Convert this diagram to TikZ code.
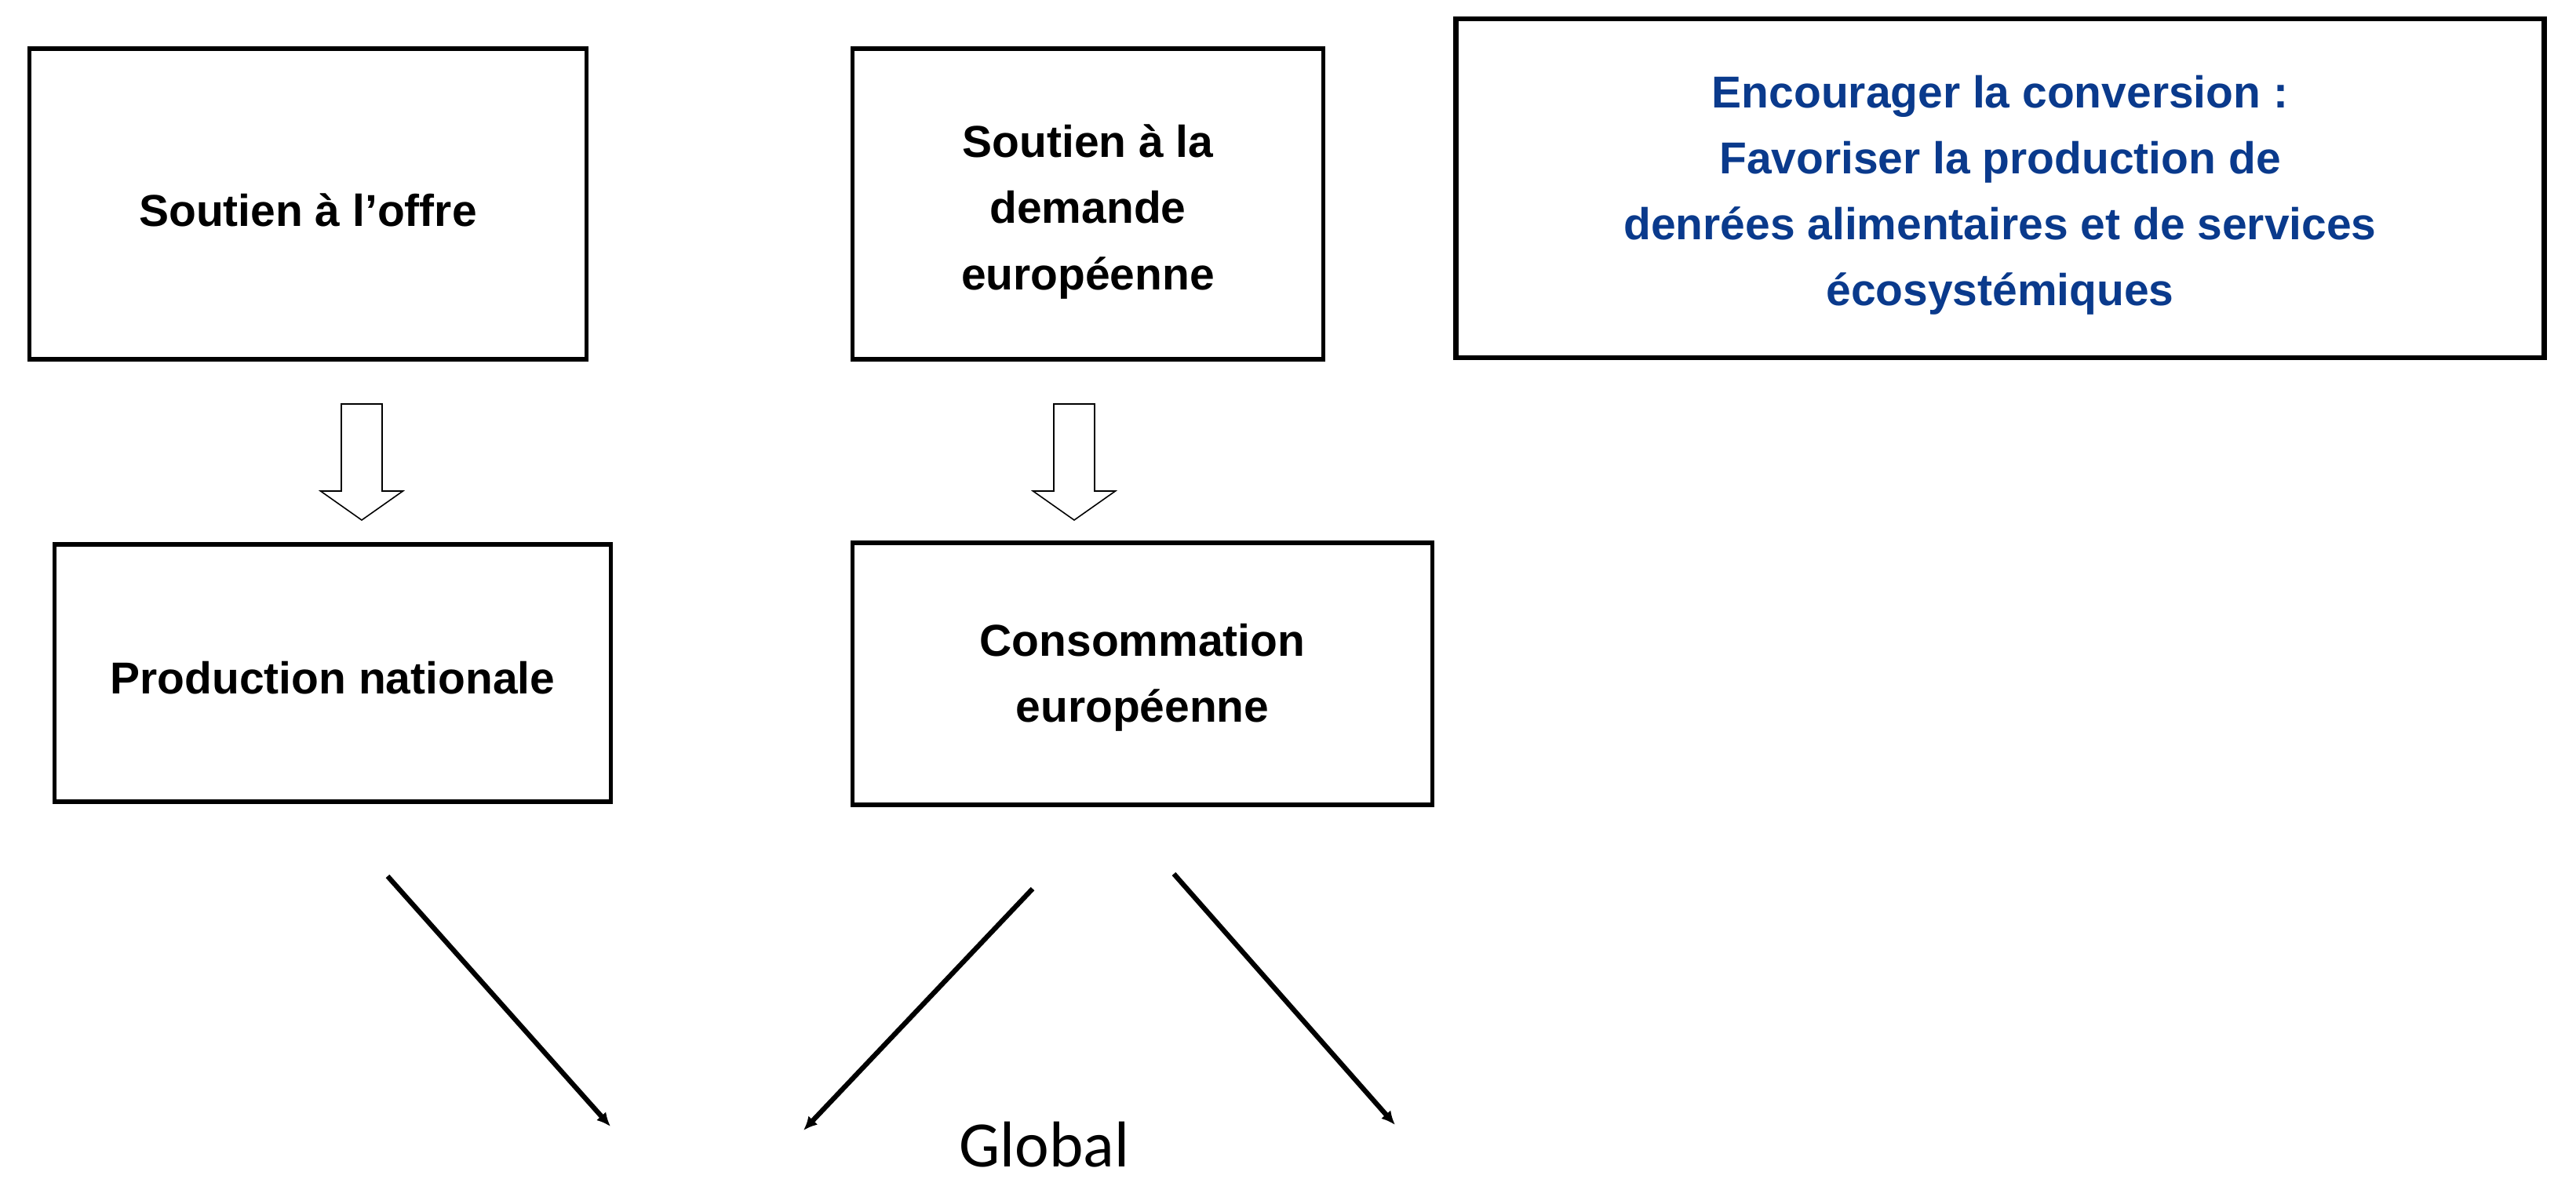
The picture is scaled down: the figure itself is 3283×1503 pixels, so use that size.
\documentclass[tikz,border=0pt]{standalone}
\usepackage{fontspec}
\setmainfont{Liberation Sans}
\newfontfamily\globalfont{Carlito}
\usetikzlibrary{arrows.meta}
\definecolor{bluetext}{RGB}{10,58,140}
\begin{document}
\begin{tikzpicture}[x=0.01cm,y=-0.01cm,
  boxstyle/.style={draw=black,line width=1.5pt,rectangle,inner sep=0pt},
  bigbox/.style={boxstyle,line width=1.9pt},
  boxtext/.style={inner sep=0pt,align=center,font=\bfseries\fontsize{16.2}{23.9}\selectfont},
  bluebold/.style={boxtext,text=bluetext},
  thinarrow/.style={line width=1.8pt,-{Latex[length=5pt,width=4.6pt]}},
  hollowarrow/.pic={\draw[line width=0.45pt,fill=white]
     (-26,0) -- (26,0) -- (26,111) -- (52.5,111) -- (0,148) -- (-52.5,111) -- (-26,111) -- cycle;}
]
\useasboundingbox (0,0) rectangle (3283,1503);
\fill[white] (0,0) rectangle (3283,1503);

\node[boxstyle,minimum width=7.09cm,minimum height=3.96cm] (offre) at (392.5,260) {};
\node[boxstyle,minimum width=5.99cm,minimum height=3.96cm] (demande) at (1386.5,260) {};
\node[bigbox,minimum width=13.86cm,minimum height=4.32cm] (conv) at (2549,240) {};
\node[boxstyle,minimum width=7.08cm,minimum height=3.28cm] (prod) at (424,858) {};
\node[boxstyle,minimum width=7.38cm,minimum height=3.34cm] (conso) at (1456,859) {};

\node[boxtext] (offreT) at ([yshift=-0.08cm]offre.center) {Soutien à l’offre};
\node[boxtext] (demandeT) at ([yshift=-0.10cm]demande.center) {Soutien à la\\demande\\européenne};
\node[bluebold] (convT) at ([yshift=-0.09cm]conv.center)
  {Encourager la conversion :\\Favoriser la production de\\denrées alimentaires et de services\\écosystémiques};
\node[boxtext] (prodT) at ([yshift=-0.06cm]prod.center) {Production nationale};
\node[boxtext] (consoT) at ([yshift=-0.05cm]conso.center) {Consommation\\européenne};

\coordinate (h1) at (461,515);
\coordinate (h2) at (1369,515);
\pic at (h1) {hollowarrow};
\pic at (h2) {hollowarrow};

\coordinate (a1s) at (494,1117);
\coordinate (a1e) at (778,1436);
\coordinate (a2s) at (1316,1133);
\coordinate (a2e) at (1024,1441);
\coordinate (a3s) at (1496,1114);
\coordinate (a3e) at (1778,1434);
\draw[thinarrow] (a1s) -- (a1e);
\draw[thinarrow] (a2s) -- (a2e);
\draw[thinarrow] (a3s) -- (a3e);

\node[anchor=base,inner sep=0pt,font=\globalfont\fontsize{23.5}{28}\selectfont] (global) at (1331,1487) {Global};
\end{tikzpicture}
\end{document}
